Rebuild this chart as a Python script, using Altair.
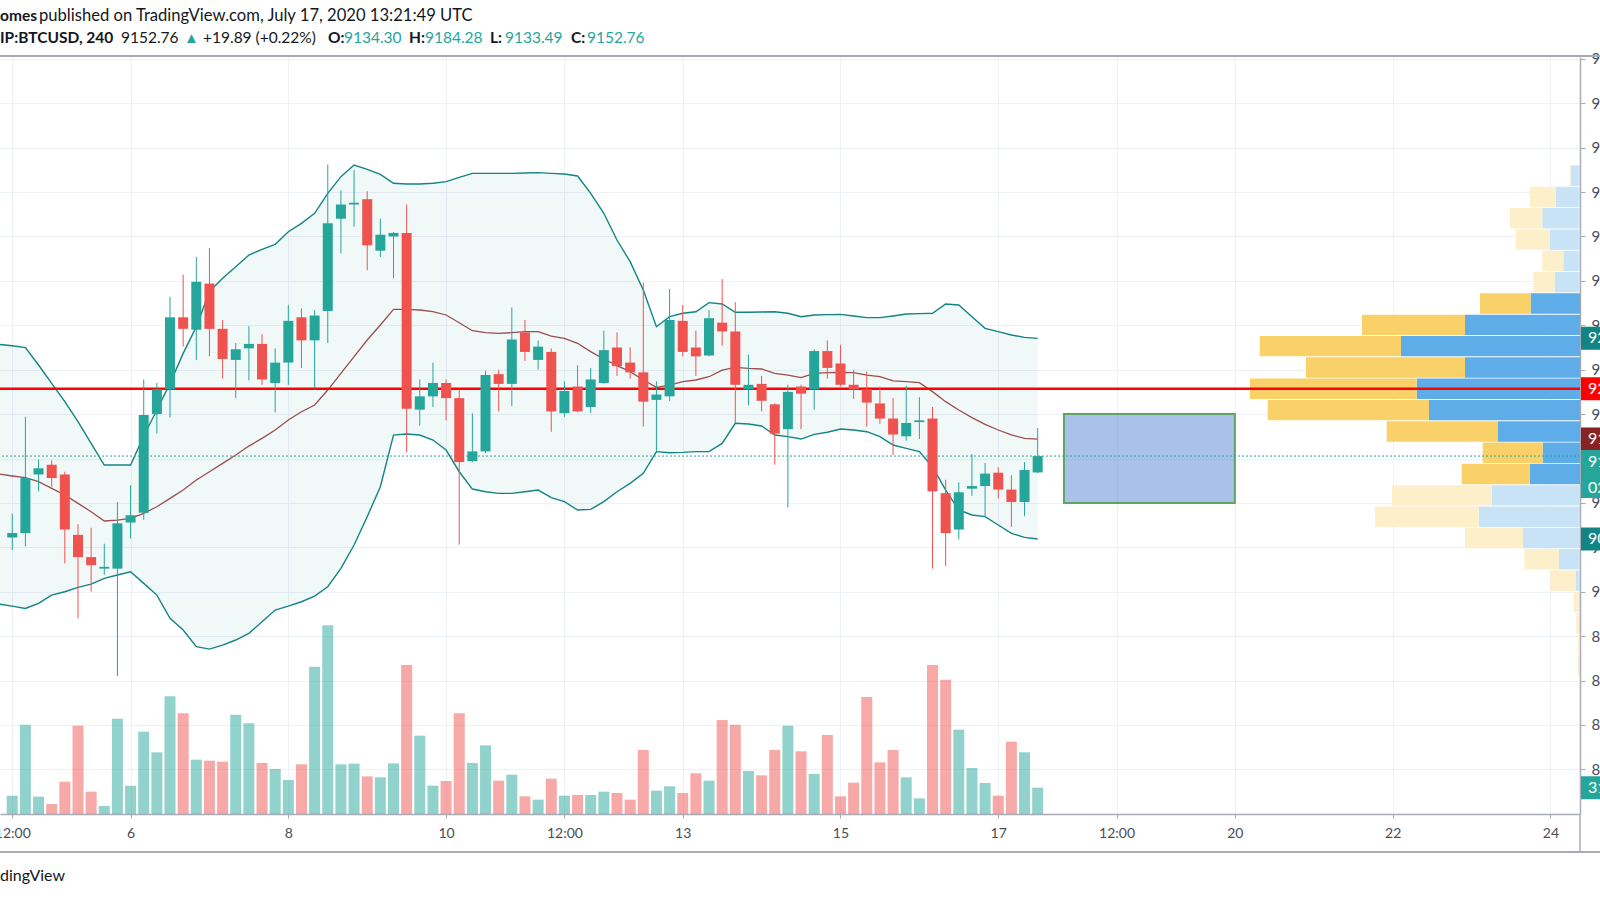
import altair as alt
import pandas as pd

# ---------------- data ----------------
# 4-hour BTCUSD bars (UTC). The first time stamp is the bar just left of the
# visible area; it is only used by the Bollinger band lines.
bar_times = pd.date_range("2020-07-04 08:00", periods=80, freq="4h")

open_ = [9061, 9066, 9132, 9143, 9132, 9064, 9039, 9026, 9026, 9078,
         9089, 9200, 9228, 9309, 9295, 9347, 9296, 9261, 9274, 9279,
         9235, 9258, 9309, 9283, 9316, 9420, 9436, 9442, 9384, 9400,
         9404, 9205, 9220, 9235, 9218, 9147, 9158, 9245, 9234, 9292,
         9261, 9270, 9201, 9231, 9208, 9235, 9275, 9258, 9247, 9216,
         9220, 9305, 9275, 9266, 9303, 9293, 9228, 9234, 9211, 9183,
         9231, 9228, 9271, 9257, 9233, 9228, 9212, 9195, 9175, 9191,
         9195, 9111, 9070, 9116, 9119, 9134, 9115, 9101, 9134.30]
high = [9088, 9197, 9149, 9148, 9135, 9076, 9072, 9054, 9101, 9120,
        9239, 9235, 9332, 9357, 9377, 9387, 9306, 9280, 9299, 9290,
        9274, 9323, 9319, 9317, 9481, 9452, 9475, 9451, 9420, 9405,
        9436, 9239, 9258, 9239, 9228, 9201, 9249, 9250, 9320, 9306,
        9283, 9274, 9237, 9255, 9252, 9294, 9292, 9275, 9348, 9237,
        9341, 9323, 9294, 9317, 9352, 9326, 9267, 9243, 9212, 9233,
        9233, 9273, 9283, 9278, 9250, 9248, 9231, 9218, 9232, 9219,
        9208, 9126, 9123, 9155, 9145, 9140, 9131, 9146, 9184.28]
low = [9047, 9051, 9113, 9118, 9032, 8970, 9000, 9019, 8905, 9060,
       9081, 9178, 9196, 9276, 9261, 9265, 9240, 9218, 9238, 9233,
       9202, 9233, 9252, 9229, 9280, 9381, 9411, 9362, 9377, 9353,
       9157, 9187, 9208, 9193, 9053, 9146, 9156, 9203, 9209, 9260,
       9250, 9180, 9197, 9202, 9201, 9234, 9243, 9240, 9186, 9158,
       9215, 9265, 9243, 9265, 9277, 9190, 9210, 9203, 9143, 9095,
       9183, 9205, 9240, 9231, 9217, 9186, 9189, 9154, 9170, 9172,
       9026, 9029, 9059, 9108, 9085, 9105, 9073, 9085, 9133.49]
close = [9066, 9128, 9139, 9128, 9070, 9039, 9030, 9028, 9077, 9086,
         9199, 9228, 9309, 9296, 9349, 9296, 9262, 9273, 9279, 9239,
         9258, 9305, 9283, 9311, 9415, 9436, 9438, 9390, 9402, 9404,
         9206, 9220, 9235, 9218, 9146, 9158, 9244, 9234, 9284, 9270,
         9276, 9203, 9226, 9203, 9239, 9272, 9254, 9247, 9214, 9222,
         9306, 9270, 9265, 9308, 9293, 9233, 9233, 9215, 9178, 9225,
         9223, 9271, 9252, 9233, 9228, 9213, 9195, 9177, 9190, 9193,
         9113, 9066, 9112, 9119, 9133, 9115, 9101, 9137, 9152.76]
volume = [220, 1072, 208, 120, 388, 1060, 268, 96, 1144, 340,
          988, 740, 1412, 1208, 652, 640, 628, 1192, 1088, 612,
          540, 408, 596, 1768, 2264, 596, 604, 452, 440, 608,
          1788, 940, 340, 396, 1208, 612, 824, 400, 472, 212,
          172, 424, 220, 228, 228, 268, 252, 172, 768, 280,
          332, 252, 488, 400, 1128, 1072, 516, 464, 768, 1060,
          752, 480, 948, 212, 376, 1404, 620, 768, 440, 188,
          1788, 1612, 1012, 552, 372, 220, 868, 740, 316]

bb_upper = [9278.5, 9277.0, 9274.8, 9255.3, 9234.6, 9214.0, 9191.4, 9167.0, 9142.6, 9142.6,
            9142.6, 9175.3, 9204.6, 9234.6, 9268.4, 9298.4, 9337.9, 9352.9, 9366.0, 9379.1,
            9385.5, 9391.2, 9405.4, 9414.8, 9426.1, 9448.6, 9467.4, 9480.5, 9475.6, 9470.0,
            9459.9, 9459.1, 9459.1, 9459.9, 9461.7, 9466.6, 9471.1, 9471.1, 9471.1, 9471.1,
            9471.5, 9471.9, 9471.1, 9470.4, 9468.1, 9448.6, 9426.1, 9396.0, 9371.6, 9339.7,
            9298.4, 9309.7, 9313.5, 9315.3, 9325.5, 9324.0, 9314.6, 9314.6, 9315.0, 9315.3,
            9313.5, 9309.7, 9311.6, 9312.0, 9312.3, 9310.5, 9308.6, 9308.6, 9310.5, 9312.7,
            9313.1, 9313.5, 9324.0, 9322.9, 9309.7, 9296.6, 9292.8, 9289.1, 9286.4, 9285.3]
bb_basis = [9132.5, 9130.3, 9128.4, 9123.9, 9116.4, 9108.9, 9099.5, 9090.1, 9079.6, 9080.7,
            9082.6, 9088.2, 9095.7, 9105.1, 9114.5, 9125.8, 9135.1, 9144.5, 9153.9, 9164.0,
            9172.7, 9182.1, 9193.3, 9202.7, 9210.2, 9227.1, 9245.9, 9264.7, 9283.4, 9300.3,
            9318.0, 9318.0, 9317.2, 9315.3, 9311.6, 9302.9, 9293.9, 9291.7, 9290.9, 9291.7,
            9292.8, 9292.8, 9287.9, 9285.3, 9279.7, 9270.3, 9262.0, 9254.5, 9247.8, 9238.4,
            9230.1, 9232.7, 9236.5, 9238.4, 9242.1, 9249.6, 9252.6, 9251.5, 9250.8, 9245.9,
            9244.0, 9241.0, 9245.9, 9246.7, 9247.0, 9246.7, 9244.0, 9242.1, 9237.3, 9236.5,
            9235.4, 9225.3, 9214.0, 9204.6, 9196.0, 9188.5, 9182.1, 9176.5, 9172.7, 9171.9]
bb_lower = [8986.1, 8983.8, 8981.2, 8986.9, 8996.2, 9000.0, 9004.9, 9008.6, 9015.0, 9018.8,
            9022.5, 9009.4, 8996.2, 8970.0, 8956.8, 8938.1, 8935.4, 8939.9, 8945.6, 8953.1,
            8966.2, 8979.3, 8983.8, 8988.7, 8995.1, 9005.6, 9026.3, 9052.6, 9084.5, 9118.2,
            9176.4, 9177.6, 9176.4, 9170.8, 9159.5, 9135.1, 9115.6, 9112.6, 9110.7, 9110.7,
            9112.6, 9114.5, 9105.9, 9101.4, 9092.0, 9092.7, 9101.4, 9112.6, 9122.0, 9133.3,
            9157.7, 9156.5, 9156.9, 9157.7, 9157.7, 9167.0, 9189.6, 9188.8, 9186.6, 9176.4,
            9174.6, 9171.9, 9177.2, 9179.5, 9183.2, 9182.1, 9180.2, 9174.6, 9165.2, 9161.4,
            9157.7, 9140.8, 9114.5, 9092.0, 9086.4, 9084.5, 9075.1, 9065.7, 9061.2, 9059.3]

# Volume profile (visible range), rows from top to bottom, 24 USD each
prof_low = [9456.5, 9432.5, 9408.5, 9384.5, 9360.5, 9336.5, 9312.5, 9288.5,
            9264.5, 9240.5, 9216.5, 9192.5, 9168.5, 9144.5, 9120.5, 9096.5,
            9072.5, 9048.5, 9024.5, 9000.5, 8976.5, 8952.5, 8928.5, 8904.5]
prof_up = [28, 73, 113, 90, 50, 76, 148, 345, 537, 345, 490, 453,
           246, 112, 151, 265, 304, 171, 63, 12, 4, 3, 2, 2]
prof_down = [3, 78, 97, 103, 63, 64, 152, 309, 424, 477, 500, 484,
             334, 180, 204, 299, 311, 174, 104, 77, 15, 8, 5, 4]
prof_value_area = [False] * 6 + [True] * 9 + [False] * 9
PSTEP = 24.0

hline_price = 9228.6
last_price = 9152.76
countdown = "02:38:11"
rect_from, rect_to = "2020-07-17 20:00", "2020-07-20 00:00"
rect_low, rect_high = 9100, 9200

x_tick_values = [4.5, 6, 8, 10, 11.5, 13, 15, 17, 18.5, 20, 22, 24]

# ---------------- layout constants ----------------
W, H = 1580, 757
XMIN, XMAX = 4.408, 24.312
YMIN, YMAX = 8749.7, 9602.1
PX = (YMAX - YMIN) / H          # price units per pixel
VMAX = H * 12                   # volume pane scale
PMAX = W * 3                    # volume-profile scale
FONT = "Lato"
TXT = "#131722"
UP, DOWN = "#26a69a", "#ef5350"


def to_day(ts):
    ts = pd.Timestamp(ts)
    return ts.day + ts.hour / 24 + ts.minute / 1440


all_days = [to_day(t) for t in bar_times]
bb = pd.DataFrame({"day": all_days, "upper": bb_upper, "basis": bb_basis, "lower": bb_lower})
candles = pd.DataFrame({"day": all_days[1:], "open": open_, "high": high, "low": low,
                        "close": close, "volume": volume})
candles["dir"] = ["up" if c >= o else "down" for o, c in zip(open_, close)]

prof_rows = []
for lo, u, d, va in zip(prof_low, prof_up, prof_down, prof_value_area):
    prof_rows.append({"lo": lo + 0.5, "hi": lo + PSTEP - 0.5, "x0": 0, "x1": u,
                      "cat": "up_va" if va else "up"})
    prof_rows.append({"lo": lo + 0.5, "hi": lo + PSTEP - 0.5, "x0": u, "x1": u + d,
                      "cat": "dn_va" if va else "dn"})
prof = pd.DataFrame(prof_rows)

XS = alt.Scale(domain=[XMIN, XMAX], nice=False, zero=False)
YS = alt.Scale(domain=[YMIN, YMAX], nice=False, zero=False)
XAX = alt.Axis(values=x_tick_values, title=None, grid=True, gridColor="#eef1f7",
               labelExpr="datum.value % 1 != 0 ? '12:00' : format(datum.value, 'd')",
               domainColor="#a9acb5", domainWidth=1.5, tickColor="#a9acb5", tickSize=4,
               labelColor="#4a4d57", labelFont=FONT, labelFontSize=14, labelPadding=8,
               labelFlush=False, labelOverlap=False)
YAX = alt.Axis(orient="right", values=list(range(8800, 9650, 50)), format=".2f", title=None,
               grid=True, gridColor="#eef1f7", domainColor="#a9acb5", domainWidth=1.5,
               tickColor="#a9acb5", tickSize=5, labelColor="#4a4d57", labelFont=FONT,
               labelFontSize=15, labelPadding=6, labelAlign="left", labelOverlap=False)
COL = alt.Color("dir:N", scale=alt.Scale(domain=["up", "down"], range=[UP, DOWN]), legend=None)


def X(f):
    return alt.X(f"{f}:Q", scale=XS, axis=XAX)


def Y(f):
    return alt.Y(f"{f}:Q", scale=YS, axis=YAX)


# ---------------- price pane ----------------
bb_area = alt.Chart(bb).mark_area(color="#198787", opacity=0.06, clip=True).encode(
    x=X("day"), y=Y("upper"), y2="lower")
bb_up = alt.Chart(bb).mark_line(color="#138484", strokeWidth=1.4, clip=True).encode(
    x=X("day"), y=Y("upper"))
bb_lo = alt.Chart(bb).mark_line(color="#138484", strokeWidth=1.4, clip=True).encode(
    x=X("day"), y=Y("lower"))
bb_mid = alt.Chart(bb).mark_line(color="#872323", opacity=0.8, strokeWidth=1.3, clip=True).encode(
    x=X("day"), y=Y("basis"))

box_df = pd.DataFrame({"t0": [to_day(rect_from)], "t1": [to_day(rect_to)],
                       "lo": [rect_low], "hi": [rect_high]})
box = alt.Chart(box_df).mark_rect(fill="#4075d3", fillOpacity=0.45, stroke="#5fa55f",
                                  strokeWidth=2).encode(x=X("t0"), x2="t1", y=Y("lo"), y2="hi")

red_line = alt.Chart(pd.DataFrame({"p": [hline_price]})).mark_rule(
    color="#ff0000", strokeWidth=2.5).encode(y=Y("p"))
price_line = alt.Chart(pd.DataFrame({"p": [last_price]})).mark_rule(
    color=UP, strokeWidth=1, strokeDash=[2, 2]).encode(y=Y("p"))

wicks = alt.Chart(candles).mark_rule(strokeWidth=1).encode(
    x=X("day"), y=Y("low"), y2="high", color=COL)
bodies = alt.Chart(candles).mark_bar(size=10).encode(
    x=X("day"), y=Y("open"), y2="close", color=COL)

BOX_TXT = dict(align="left", baseline="middle", color="white", font=FONT, fontSize=16)


def price_label(price, color, text, up_px=11.5, down_px=11.5, dy=0, second=None):
    d = pd.DataFrame({"p": [price], "top": [price + up_px * PX],
                      "bot": [price - down_px * PX], "t": [text]})
    parts = [
        alt.Chart(d).mark_rect(color=color).encode(
            x=alt.value(W + 1), x2=alt.value(W + 60), y=Y("top"), y2="bot"),
        alt.Chart(d).mark_text(dy=dy, **BOX_TXT).encode(
            x=alt.value(W + 8), y=Y("p"), text="t:N"),
    ]
    if second is not None:
        d2 = pd.DataFrame({"p": [price], "t": [second[0]]})
        parts.append(alt.Chart(d2).mark_text(dy=second[1], **BOX_TXT).encode(
            x=alt.value(W + 8), y=Y("p"), text="t:N"))
    return parts


labels = []
labels += price_label(bb_upper[-1], "#138484", f"{bb_upper[-1]:.2f}")
labels += price_label(hline_price, "#ff0000", f"{hline_price:.2f}")
labels += price_label(bb_basis[-1], "#872323", f"{bb_basis[-1]:.2f}")
labels += price_label(bb_lower[-1], "#138484", f"{bb_lower[-1]:.2f}")
labels += price_label(last_price, UP, f"{last_price:.2f}", up_px=6, down_px=42, dy=6,
                      second=(countdown, 32))

main = alt.layer(bb_area, bb_up, bb_lo, bb_mid, box, red_line, price_line, wicks, bodies,
                 *labels)

# ---------------- volume (overlay, own scale) ----------------
VX = alt.X("day:Q", scale=XS, axis=None)
VS = alt.Scale(domain=[0, VMAX], nice=False)
vol_bars = alt.Chart(candles).mark_bar(size=11, opacity=0.5).encode(
    x=VX, y=alt.Y("volume:Q", scale=VS, axis=None), color=COL)
vd = pd.DataFrame({"v": [volume[-1]], "top": [volume[-1] + 11.5 * 12],
                   "bot": [volume[-1] - 11.5 * 12], "t": [f"{volume[-1]}"]})
vol_box = alt.Chart(vd).mark_rect(color=UP).encode(
    x=alt.value(W + 1), x2=alt.value(W + 60), y=alt.Y("top:Q", scale=VS, axis=None), y2="bot")
vol_txt = alt.Chart(vd).mark_text(**BOX_TXT).encode(
    x=alt.value(W + 8), y=alt.Y("v:Q", scale=VS, axis=None), text="t:N")
vol = alt.layer(vol_bars, vol_box, vol_txt)

# ---------------- volume profile (own x scale, anchored at the right) ----------------
profile = alt.Chart(prof).mark_rect().encode(
    x=alt.X("x0:Q", scale=alt.Scale(domain=[0, PMAX], reverse=True, nice=False), axis=None),
    x2="x1",
    y=alt.Y("lo:Q", scale=YS, axis=None), y2="hi",
    color=alt.Color("cat:N", scale=alt.Scale(domain=["up_va", "dn_va", "up", "dn"],
                                             range=["#5eade9", "#f9d168", "#c8e3f6", "#fdefca"]),
                    legend=None))

# ---------------- header / frame annotations ----------------
ONE = pd.DataFrame({"k": [0]})


def text(s, x, y, color=TXT, bold=False, size=15.5):
    return alt.Chart(ONE).mark_text(align="left", baseline="middle", font=FONT, fontSize=size,
                                    fontWeight="bold" if bold else "normal", color=color).encode(
        x=alt.value(x), y=alt.value(y), text=alt.value(s))


def hrule(y, x0=0, x1=1600, color="#a9acb5", w=2):
    return alt.Chart(ONE).mark_rule(color=color, strokeWidth=w).encode(
        x=alt.value(x0), x2=alt.value(x1), y=alt.value(y))


L1, L2 = -40.8, -18.8
header = [
    text("omes", 0, L1, bold=True, size=15.5),
    text("published on TradingView.com, July 17, 2020 13:21:49 UTC", 39, L1, size=16.6),
    text("IP:BTCUSD, 240", 0, L2, bold=True),
    text("9152.76", 121, L2),
    text("▲", 184, L2, color=UP, size=15),
    text("+19.89 (+0.22%)", 203, L2),
    text("O:", 328, L2, bold=True), text("9134.30", 344, L2, color=UP),
    text("H:", 409, L2, bold=True), text("9184.28", 425, L2, color=UP),
    text("L:", 490, L2, bold=True), text("9133.49", 505, L2, color=UP),
    text("C:", 571, L2, bold=True), text("9152.76", 587, L2, color=UP),
    text("dingView", 0, 818.5, size=16),
    hrule(-1),
    hrule(795),
    alt.Chart(ONE).mark_rule(color="#a9acb5", strokeWidth=1.5).encode(
        x=alt.value(W), y=alt.value(H), y2=alt.value(796)),
]

chart = alt.layer(vol, profile, main, *header).resolve_scale(
    x="independent", y="independent", color="independent"
).properties(
    width=W, height=H,
    autosize=alt.AutoSizeParams(type="none"),
    padding={"left": 0, "right": 20, "top": 57, "bottom": 86},
    background="white",
).configure_view(stroke=None)

chart.save("out.html", embed_options={"renderer": "svg", "actions": False})
